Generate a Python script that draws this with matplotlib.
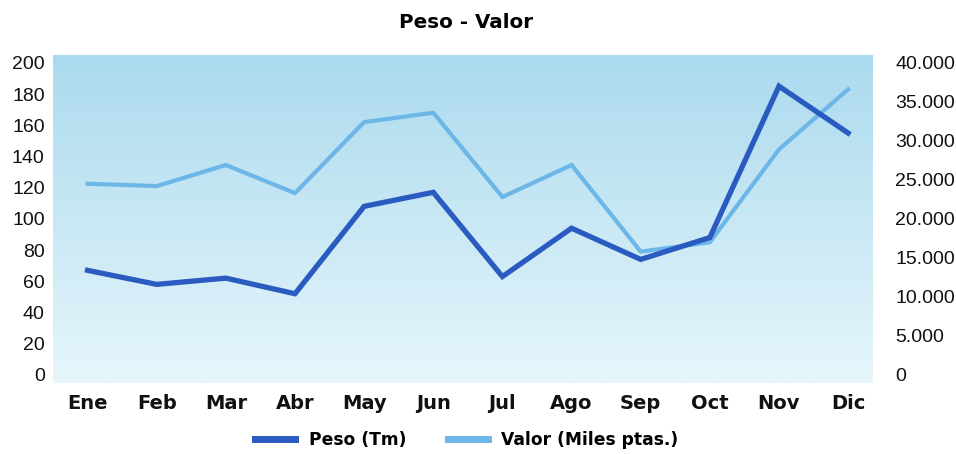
import numpy as np
import matplotlib
matplotlib.use('Agg')
import matplotlib.pyplot as plt
from matplotlib.ticker import FuncFormatter
from matplotlib.colors import LinearSegmentedColormap

plt.rcParams['font.family'] = ['Liberation Sans', 'DejaVu Sans']

meses = ['Ene', 'Feb', 'Mar', 'Abr', 'May', 'Jun', 'Jul', 'Ago', 'Sep', 'Oct', 'Nov', 'Dic']
peso_tm = [67, 58, 62, 52, 108, 117, 63, 94, 74, 88, 185, 155]
valor_miles = [24500, 24200, 26900, 23300, 32400, 33600, 22800, 26900, 15800, 17000, 28900, 36600]

fig = plt.figure(figsize=(9.56, 4.54), dpi=100)
ax = fig.add_axes([53 / 956, 1 - 383 / 454, 820 / 956, 328 / 454])
ax2 = ax.twinx()

ylo, yhi = -5.2, 205
x = np.arange(len(meses))

# fondo degradado azul claro (en el eje de abajo, para que se vean ambas líneas)
fondo = LinearSegmentedColormap.from_list('fondo', ['#e6f6fb', '#abdaee'])
grad = np.linspace(0, 1, 256).reshape(-1, 1)
ax2.imshow(grad, cmap=fondo, aspect='auto', origin='lower',
           extent=[-0.5, 11.36, ylo * 200, yhi * 200], zorder=0)

ax2.plot(x, valor_miles, color='#6cb6e8', lw=3.0, solid_joinstyle='miter', zorder=2)
ax.plot(x, peso_tm, color='#2a5bc0', lw=3.8, solid_joinstyle='miter', zorder=3)
ax.set_zorder(ax2.get_zorder() + 1)
ax.patch.set_visible(False)

ax.set_xlim(-0.5, 11.36)
ax2.set_xlim(-0.5, 11.36)
ax.set_ylim(ylo, yhi)
ax2.set_ylim(ylo * 200, yhi * 200)
ax.set_yticks(range(0, 201, 20))
ax2.set_yticks(range(0, 40001, 5000))
ax2.yaxis.set_major_formatter(FuncFormatter(lambda v, p: f'{int(v):,}'.replace(',', '.')))
ax.set_xticks(x)
ax.set_xticklabels(meses, fontweight='bold', fontsize=13, family='DejaVu Sans')

for a in (ax, ax2):
    for s in a.spines.values():
        s.set_visible(False)
    a.tick_params(length=0, labelsize=14, colors='#111111')
ax.tick_params(axis='y', pad=6)
ax2.tick_params(axis='y', pad=16)
ax.tick_params(axis='x', pad=8)

fig.text(0.487, 1 - 22 / 454, 'Peso - Valor', ha='center', va='center',
         fontsize=14.3, fontweight='bold', family='DejaVu Sans')

h1, = ax.plot([], [], color='#2a5bc0', lw=5)
h2, = ax.plot([], [], color='#6cb6e8', lw=5)
fig.legend([h1, h2], ['Peso (Tm)', 'Valor (Miles ptas.)'], ncol=2, frameon=False,
           loc='center', bbox_to_anchor=(0.4885, 1 - 440 / 454), handlelength=2.35,
           handletextpad=0.8, columnspacing=2.4,
           prop={'weight': 'bold', 'size': 12.3, 'family': 'DejaVu Sans'})

fig.savefig('out.png', dpi=100)
